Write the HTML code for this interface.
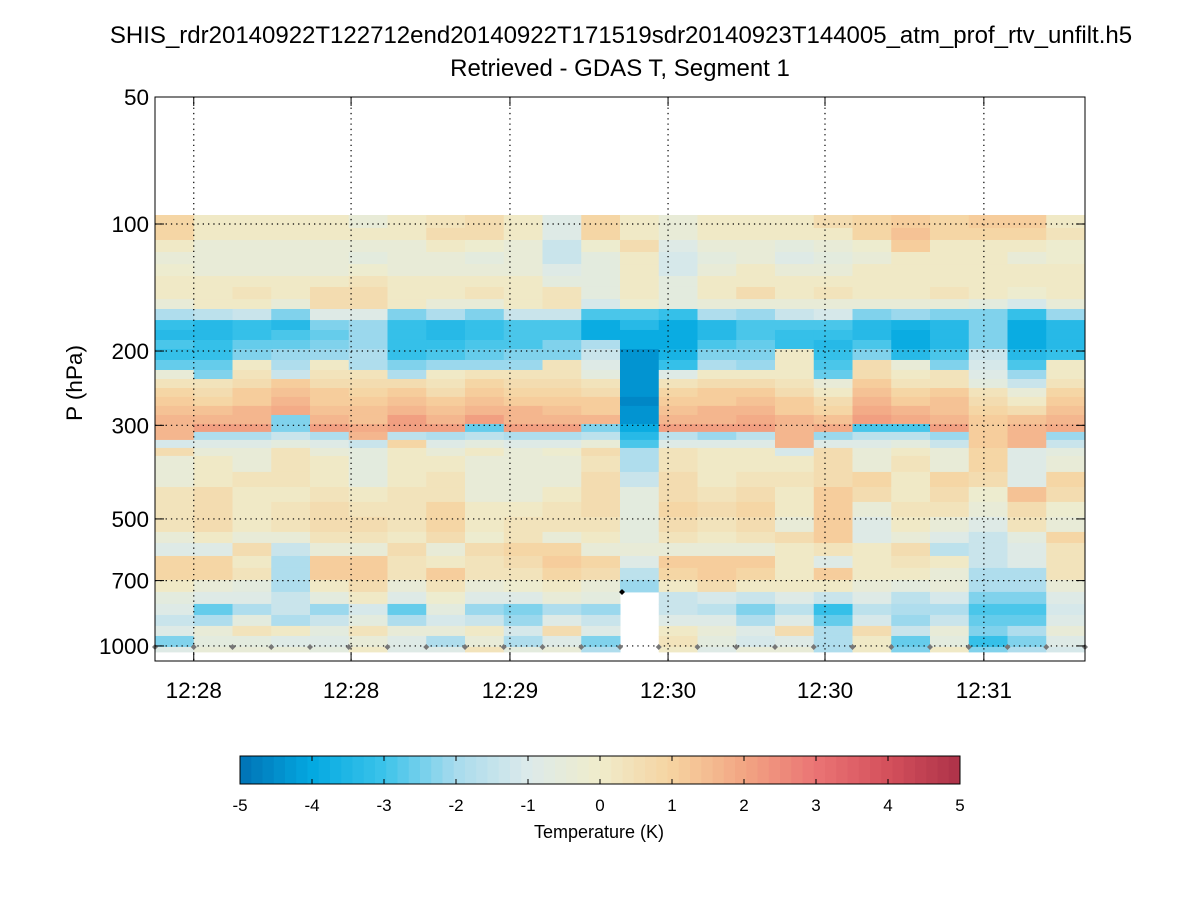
<!DOCTYPE html>
<html><head><meta charset="utf-8"><style>
body{margin:0;background:#fff;}
svg{display:block;font-family:"Liberation Sans",sans-serif;}
</style></head><body>
<svg id="chart" width="1200" height="900" viewBox="0 0 1200 900">
<text x="621" y="43" text-anchor="middle" font-size="24">SHIS_rdr20140922T122712end20140922T171519sdr20140923T144005_atm_prof_rtv_unfilt.h5</text>
<text x="620" y="76" text-anchor="middle" font-size="24">Retrieved - GDAS T, Segment 1</text>
<text transform="translate(82,383) rotate(-90)" text-anchor="middle" font-size="22.5">P (hPa)</text>
<g id="cells"></g>
<g id="grid"></g>
<g id="axes"></g>
<g id="cbar"></g>
<text x="599" y="838" text-anchor="middle" font-size="18">Temperature (K)</text>
</svg>
<script>
const pressureEdges=[95.2,102.2,109.1,116.5,124.4,132.8,141.0,150.6,159.0,168.9,178.3,188.3,197.8,210.0,221.8,233.0,244.7,256.9,269.8,283.5,297.8,311.0,324.9,339.4,354.5,386.9,420.1,455.7,494.6,536.8,570.1,612.0,653.3,697.4,744.7,795.2,844.4,896.5,947,1005.6,1033];
const yTicks=[50,100,200,300,500,700,1000];
const timeTicks=[1.0,5.06,9.16,13.24,17.29,21.39];
const timeLabels=["12:28","12:28","12:29","12:30","12:30","12:31"];
const cbarTicks=[-5,-4,-3,-2,-1,0,1,2,3,4,5];
const N=null;
const tempDiff=[
[0.8,0.2,0.2,0.2,0.2,-0.5,0.2,0.3,0.6,0.2,-0.8,0.8, 0.2,-0.3,0.2,0.1,0.1,0.6,0.9,1.1,0.9,1.0,1.0,0.0],
[0.8,0.2,0.2,0.2,0.2,0.2,0.2,0.5,0.5,0.2,-1.0,0.8, 0.2,-0.4,0.1,0.2,0.2,0.1,0.8,1.4,0.8,0.8,0.8,0.3],
[0.1,-0.5,-0.5,-0.4,-0.3,-0.5,-0.3,0,-0.1,-0.3,-1.3,-0.2, 0.5,-0.9,-0.5,-0.5,-0.7,-0.4,-0.2,1.2,0.2,0.1,0.1,-0.2],
[-0.5,-0.5,-0.5,-0.5,-0.4,-0.6,-0.5,-0.4,-0.6,-0.5,-1.3,-0.6, 0.1,-1.2,-0.6,-0.5,-0.8,-0.7,-0.4,0.2,0.1,0.1,-0.3,-0.2],
[-0.2,-0.4,-0.4,-0.4,-0.3,-0.2,-0.4,-0.3,-0.4,-0.4,-1.0,-0.7, 0.1,-1.1,-0.3,0.1,-0.5,-0.5,0,0.2,0.1,0.2,0,0],
[0.2,0.2,0.2,0.2,0.2,0.3,0.2,0.2,0.2,0.2,-0.6,-0.6, 0.2,-0.7,0.1,0.2,0.2,0.2,0.2,0.2,0.2,0.2,0,0.2],
[0.2,0.2,0.3,0.2,0.6,0.7,0.2,0.2,0.3,0.2,0.3,-0.7, 0.2,-0.7,0.2,0.5,0.2,0.4,0.2,0.2,0.4,0.2,-0.2,0.2],
[-0.5,0.1,0.2,-0.5,0.6,0.7,0,-0.3,-0.3,0.1,0.3,-1.1, -0.2,-0.7,-0.3,-0.3,-0.4,-0.3,-0.3,-0.5,-0.4,-0.6,-1.1,-0.5],
[-1.8,-1.7,-1.3,-2.4,-0.9,-0.9,-2.4,-1.8,-2.4,-1.5,-1.3,-2.8, -2.8,-3.1,-1.8,-2.1,-1.5,-1.2,-2.4,-2.2,-2.4,-2.5,-3.1,-2.1],
[-3.2,-3.3,-3.1,-3.3,-2.5,-2.2,-3.1,-3.3,-3.2,-3.0,-2.9,-4.0, -3.5,-4.0,-3.3,-2.9,-3.0,-2.9,-3.3,-3.7,-3.4,-2.5,-3.8,-3.4],
[-3.3,-3.3,-3.1,-2.9,-2.6,-2.2,-3.2,-3.3,-3.1,-2.9,-2.8,-4.0, -3.8,-4.0,-3.3,-2.9,-3.2,-3.2,-3.3,-3.8,-3.5,-2.5,-3.8,-3.4],
[-3.0,-3.2,-2.7,-2.7,-2.4,-2.1,-3.1,-3.1,-2.8,-2.8,-2.5,-1.8, -4.0,-3.8,-3.0,-2.7,-3.2,-3.4,-3.0,-3.8,-3.4,-2.3,-3.9,-3.4],
[-3.1,-3.2,-2.3,-2.1,-2.1,-1.8,-3.1,-3.0,-2.6,-2.4,-2.4,-1.3, -4.4,-3.7,-2.4,-2.3,0.0,-3.2,-2.4,-3.5,-3.0,-1.5,-3.4,-3.1],
[-2.7,-2.7,0.2,-1.9,0.2,-1.8,-2.4,-2.2,-2.1,-2.1,0.3,-0.9, -4.4,-3.1,-2.0,-2.1,0.0,-3.0,0.5,-0.4,-2.3,-1.2,-3.0,0.0],
[-0.5,-2.3,0.4,-1.3,0.4,0.4,-1.8,0.2,0.4,0.4,0.4,-0.6, -4.4,-0.8,0.1,0.1,0.1,-2.6,0.6,0.2,0.4,-0.9,-2.2,0.1],
[0.3,0.3,0.7,1.0,0.6,0.7,0.6,0.3,0.8,0.6,0.6,0.3, -4.4,0.3,0.5,0.7,0.3,-0.3,1.1,0.3,0.4,-0.6,-1.3,0.4],
[0.8,0.5,1.0,1.3,1.0,0.9,1.0,0.5,1.1,0.8,0.9,0.6, -4.4,0.8,1.0,1.2,0.7,0.2,1.3,0.8,1.0,0.3,-0.4,0.9],
[1.1,0.9,1.2,1.5,1.2,1.0,1.3,1.0,1.4,1.1,1.1,1.0, -4.6,1.1,1.2,1.4,1.0,0.6,1.6,1.1,1.3,0.6,0.2,1.1],
[1.4,1.3,1.5,1.9,1.4,1.3,1.7,1.3,1.7,1.5,1.4,1.2, -4.4,1.4,1.5,1.6,1.2,0.9,1.8,1.5,1.4,0.8,0.5,1.3],
[1.6,1.6,1.7,-2.5,1.6,1.4,2.0,1.7,2.0,1.7,1.7,1.7, -4.4,1.7,1.7,1.9,1.5,1.4,2.1,1.8,1.7,1.0,1.3,1.6],
[1.7,2.0,2.0,-2.5,2.0,1.8,2.2,2.0,-2.6,2.0,2.0,-2.4, -3.8,2.0,2.0,2.2,1.7,1.8,-2.8,-2.8,2.1,1.0,1.5,1.8],
[1.7,-2.0,-2.0,-1.5,-2.0,1.7,-1.6,-1.9,-1.6,-1.9,-1.9,-1.6, -3.4,-1.7,-2.1,-1.7,1.5,-2.2,-1.7,-1.7,-2.1,1.0,1.5,-2.2],
[-1.2,-0.9,-0.9,-0.6,-1.0,-1.5,0.8,-1.0,-0.6,-0.9,-0.9,-0.5, -2.8,-0.9,-1.0,-0.9,1.5,-1.0,-0.9,-0.7,-1.3,1.0,1.5,-1.3],
[0.6,-0.5,-0.5,0.4,-0.5,-0.6,0.2,-0.4,0.0,-0.3,-0.2,0.5, -2.0,0.3,0.0,0.1,-1.2,0.5,-0.4,0.2,-0.4,0.9,-1.0,-0.7],
[-0.5,0.1,-0.3,0.3,0.0,-0.6,0.1,0.0,-0.4,-0.5,-0.4,0.4, -2.0,0.4,0.0,0.2,0.2,0.6,-0.4,0.3,-0.5,0.9,-0.9,-0.4],
[-0.5,0.2,0.3,0.3,0.1,-0.6,0.1,0.3,-0.5,-0.5,-0.4,0.5, -1.3,0.5,0.1,0.3,0.3,0.7,0.8,0.2,0.8,0.7,-1.0,0.8],
[0.3,0.5,0.2,0.2,0.3,0.2,0.3,0.4,-0.3,-0.3,0.2,0.6, -0.6,0.6,0.3,0.5,0.2,1.0,0.5,0.2,0.5,-0.2,1.3,0.6],
[0.3,0.7,0.2,0.3,0.6,0.4,0.3,0.8,0.2,0.2,0.3,0.6, -0.6,0.8,0.5,0.8,0.1,1.2,-0.3,0.3,0.3,-0.4,0.5,-0.2],
[0.3,0.5,0.2,0.3,0.6,0.5,0.3,0.8,0.0,0.3,0.3,0.4, -0.6,0.5,0.3,0.6,-0.3,1.2,-0.8,0.2,-0.4,-1.0,0.3,-0.3],
[-0.3,0.2,-0.3,-0.5,0.3,0.3,0.2,0.6,-0.1,0.3,-0.3,0.2, -0.6,0.3,0.2,0.3,0.6,1.2,-1.0,-0.4,-0.8,-1.3,-0.6,0.8],
[-0.8,-0.8,0.7,-1.3,-0.5,-0.5,0.7,-0.3,0.7,0.9,0.9,-0.5, -0.4,-0.4,-0.5,-0.5,0.2,0.3,0.2,0.6,-1.6,-1.3,-0.9,0.3],
[0.8,0.9,0.2,-2.0,1.1,1.1,0.4,0.0,0.4,0.6,1.0,0.8, -0.9,1.0,1.0,1.0,0.2,-0.8,0.2,0.4,0.0,-1.3,-1.0,0.3],
[0.8,0.8,0.3,-2.0,1.0,1.2,0.3,1.2,0.4,0.4,0.9,0.6, -1.7,0.9,1.0,0.9,0.2,1.2,0.0,0.2,-0.3,-2.0,-1.8,0.3],
[0.2,-0.3,-0.6,-1.8,0.2,0.6,-0.5,0.4,-0.3,-0.2,0.2,-0.3, -2.2,0.0,0.6,0.0,0.2,0.0,-0.3,-0.6,-0.5,-2.0,-2.0,-0.4],
[-0.6,-1.0,-0.8,-1.4,-0.6,0.2,-1.0,-0.2,-0.8,-0.9,-0.4,-0.7, N,-1.5,-1.2,-1.5,-1.0,-1.4,-1.0,-1.6,-1.2,-2.3,-2.3,-0.8],
[-1.0,-2.6,-1.8,-1.4,-2.2,-1.1,-2.7,-0.7,-2.1,-2.4,-1.8,-2.1, N,-1.5,-1.6,-2.3,-1.6,-3.2,-1.6,-1.9,-2.0,-2.9,-3.0,-1.2],
[-1.4,-2.0,-0.6,-1.8,-1.5,-0.7,-1.9,-1.2,-1.4,-2.1,-0.8,-1.4, N,-0.8,-1.0,-1.9,-0.8,-2.6,-1.1,-2.1,-1.5,-2.6,-2.6,-1.0],
[-0.8,-0.5,0.3,0.2,-0.6,0.4,-0.4,-0.3,0.1,-1.1,0.6,-0.9, N,0.2,-0.4,-0.9,0.6,-1.8,0.5,-1.4,-0.3,-2.3,-2.0,-0.4],
[-2.4,-0.7,-0.6,-0.8,-0.9,-0.3,-0.8,-2.0,-0.3,-1.8,-1.0,-2.4, N,0.3,-0.6,-1.2,-0.8,-2.0,0.2,-2.6,-0.6,-3.2,-2.5,-1.0],
[-1.0,-0.5,-0.5,-0.5,-0.6,0.2,-0.8,-1.0,0.3,-0.7,-0.5,-2.0, N,0.2,-0.9,-0.5,-0.4,-2.0,0.2,-2.4,0.2,-2.3,-2.0,-1.2]
];
const NS="http://www.w3.org/2000/svg";
const L=155,R=1085,T=97,B=661,nCols=24;
const pMin=50,pMax=1085.6;
const xs=c=>L+c*(R-L)/nCols;
const ys=p=>T+(Math.log10(p)-Math.log10(pMin))/(Math.log10(pMax)-Math.log10(pMin))*(B-T);
const stops=[[-5,[0,114,181]],[-4,[3,169,225]],[-3,[60,195,234]],[-2,[168,219,237]],[-1,[220,234,234]],[0,[239,236,203]],[1,[246,211,160]],[2,[242,165,131]],[3,[234,116,116]],[4,[212,80,92]],[5,[173,50,72]]];
function col(v,step){
  step=step||0.25;
  v=Math.max(-5,Math.min(5,v));
  v=Math.max(-5+step/2,Math.min(5-step/2,Math.floor(v/step)*step+step/2));
  for(let i=0;i<stops.length-1;i++){const a=stops[i],b=stops[i+1];
    if(v>=a[0]&&v<=b[0]){const t=(v-a[0])/(b[0]-a[0]);
      return 'rgb('+a[1].map((x,k)=>Math.round(x+(b[1][k]-x)*t)).join(',')+')';}}
}
function mk(tag,attrs,parent){const e=document.createElementNS(NS,tag);for(const k in attrs)e.setAttribute(k,attrs[k]);parent.appendChild(e);return e;}
const cells=document.getElementById('cells');
tempDiff.forEach((row,r)=>{row.forEach((v,c)=>{ if(v===null) return;
  const y0=ys(pressureEdges[r]),y1=ys(pressureEdges[r+1]);
  const e=mk('rect',{x:xs(c),y:y0,width:xs(c+1)-xs(c)+0.5,height:y1-y0+0.5,fill:col(v)},cells);
  
  
});});
const grid=document.getElementById('grid');
timeTicks.forEach(t=>{const e=mk('line',{x1:xs(t),x2:xs(t),y1:T,y2:B,stroke:'#000','stroke-width':1.2,'stroke-dasharray':'1.3 4'},grid);
  });
yTicks.slice(1).forEach(p=>{const e=mk('line',{x1:L,x2:R,y1:ys(p),y2:ys(p),stroke:'#000','stroke-width':1.2,'stroke-dasharray':'1.3 4'},grid);
  });
for(let i=0;i<=nCols;i++){const e=mk('path',{d:`M${xs(i)-3},647 L${xs(i)},644 L${xs(i)+3},647 L${xs(i)},650Z`,fill:'#777'},grid);
  }
{const e=mk('path',{d:'M619,592 L622,589 L625,592 L622,595Z',fill:'#000'},grid);
}
const axes=document.getElementById('axes');
{const e=mk('rect',{x:L,y:T,width:R-L,height:B-T,fill:'none',stroke:'#000','stroke-width':1},axes);
}
yTicks.forEach(p=>{const y=ys(p);
  mk('line',{x1:L,x2:L+9,y1:y,y2:y,stroke:'#000'},axes);mk('line',{x1:R-9,x2:R,y1:y,y2:y,stroke:'#000'},axes);
  const e=mk('text',{x:149,y:y+8,'text-anchor':'end','font-size':22.5},axes);e.textContent=p;
  });
timeTicks.forEach((t,i)=>{const x=xs(t);
  mk('line',{x1:x,x2:x,y1:B,y2:B-9,stroke:'#000'},axes);mk('line',{x1:x,x2:x,y1:T,y2:T+9,stroke:'#000'},axes);
  const e=mk('text',{x:x,y:698,'text-anchor':'middle','font-size':22.5},axes);e.textContent=timeLabels[i];
  });
const cb=document.getElementById('cbar');
const cbL=240,cbR=960,cbT=756,cbB=784;
const cx=v=>cbL+(v+5)/10*(cbR-cbL);
const nSteps=64;
for(let i=0;i<nSteps;i++){const v=-5+i*10/nSteps;
  const e=mk('rect',{x:cx(v),y:cbT,width:(cbR-cbL)/nSteps+0.5,height:cbB-cbT,fill:col(v+0.05,10/nSteps)},cb);
  }
mk('rect',{x:cbL,y:cbT,width:cbR-cbL,height:cbB-cbT,fill:'none',stroke:'#000'},cb);
cbarTicks.forEach(v=>{const x=cx(v);
  mk('line',{x1:x,x2:x,y1:cbT,y2:cbT+5,stroke:'#000'},cb);mk('line',{x1:x,x2:x,y1:cbB-5,y2:cbB,stroke:'#000'},cb);
  const e=mk('text',{x:x,y:811,'text-anchor':'middle','font-size':17},cb);e.textContent=v;
  });
</script>
</body></html>
